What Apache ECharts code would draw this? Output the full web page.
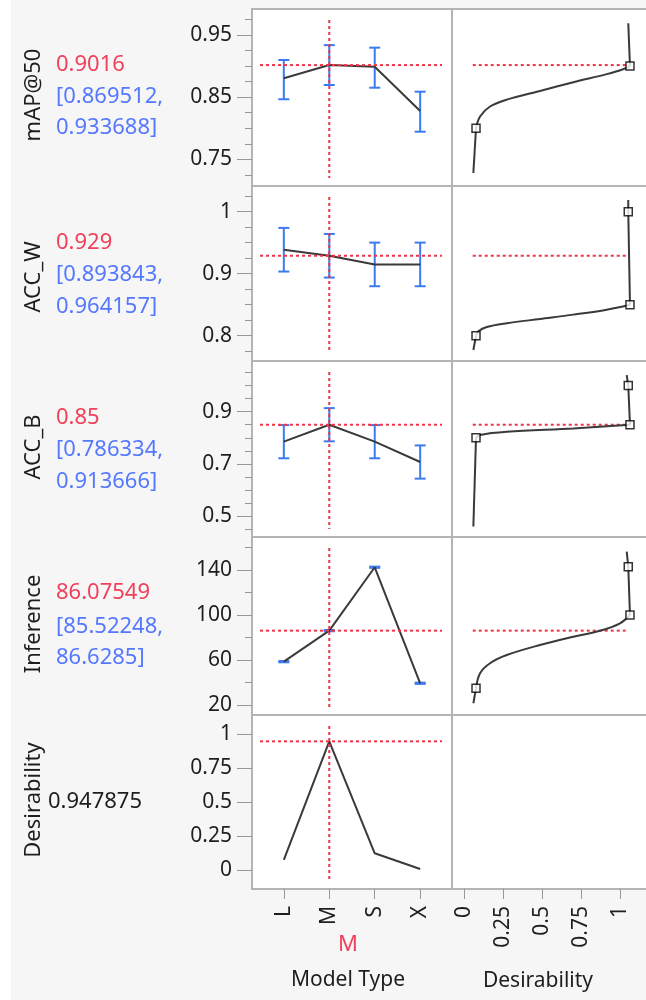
<!DOCTYPE html>
<html><head><meta charset="utf-8">
<script src="https://cdn.jsdelivr.net/npm/echarts@6/dist/echarts.min.js"></script>
<style>html,body{margin:0;padding:0;background:#fff}#c{width:646px;height:1000px}</style>
</head><body><div id="c"></div><script>
// ---------------- data ----------------
const categories = ['L', 'M', 'S', 'X'];
const currentIndex = 1; // current setting: M
const responseNames = ['mAP@50', 'ACC_W', 'ACC_B', 'Inference', 'Desirability'];

const mapMean = [0.8804, 0.9016, 0.8990, 0.8278];
const mapLo   = [0.8466, 0.869512, 0.8652, 0.7944];
const mapHi   = [0.9098, 0.933688, 0.9296, 0.8588];

const accWMean = [0.9387, 0.929, 0.9150, 0.9150];
const accWLo   = [0.9035, 0.893843, 0.8798, 0.8798];
const accWHi   = [0.9739, 0.964157, 0.9502, 0.9502];

const accBMean = [0.7850, 0.85, 0.7850, 0.7070];
const accBLo   = [0.7213, 0.786334, 0.7213, 0.6433];
const accBHi   = [0.8487, 0.913666, 0.8487, 0.7707];

const infMean = [58.5, 86.07549, 142.4, 39.3];
const infLo   = [57.95, 85.52248, 141.85, 38.75];
const infHi   = [59.05, 86.6285, 142.95, 39.85];

const desirability = [0.074, 0.947875, 0.123, 0.007];

// desirability functions (x = desirability, y = response)
const mapDesCurve = [[0.077,0.800],[0.103,0.819],[0.167,0.835],[0.274,0.846],[0.487,0.860],[0.701,0.874],[0.915,0.887],[1.011,0.894],[1.064,0.900]];
const mapDesTails = [[[0.060,0.728],[0.077,0.800]], [[1.064,0.900],[1.053,0.969]]];
const mapDesHandles = [[0.077,0.800],[1.064,0.900]];

const accWDesCurve = [[0.077,0.800],[0.092,0.807],[0.146,0.814],[0.274,0.820],[0.487,0.827],[0.701,0.834],[0.915,0.842],[1.064,0.850]];
const accWDesTails = [[[0.060,0.777],[0.077,0.800]], [[1.064,0.850],[1.053,1.000],[1.053,1.019]]];
const accWDesHandles = [[0.077,0.800],[1.064,0.850],[1.053,1.000]];

const accBDesCurve = [[0.077,0.800],[0.103,0.811],[0.274,0.823],[0.701,0.836],[1.064,0.850]];
const accBDesTails = [[[0.060,0.460],[0.077,0.800]], [[1.064,0.850],[1.053,1.000],[1.043,1.040]]];
const accBDesHandles = [[0.077,0.800],[1.064,0.850],[1.053,1.000]];

const infDesCurve = [[0.077,34.8],[0.103,48.2],[0.167,57.1],[0.274,64.4],[0.487,73.3],[0.701,80.7],[0.872,86.0],[1.000,92.6],[1.064,100.0]];
const infDesTails = [[[0.060,21.5],[0.077,34.8]], [[1.064,100.0],[1.053,142.9],[1.043,156.3]]];
const infDesHandles = [[0.077,34.8],[1.064,100.0],[1.053,142.9]];

// tick labels
const mapTicks = [0.75, 0.85, 0.95];
const mapMinor = [0.725,0.75,0.775,0.8,0.825,0.85,0.875,0.9,0.925,0.95,0.975];
const accWTicks = [0.8, 0.9, 1];
const accWMinor = [0.775,0.8,0.825,0.85,0.875,0.9,0.925,0.95,0.975,1,1.025];
const accBTicks = [0.5, 0.7, 0.9];
const accBMinor = [0.45,0.5,0.55,0.6,0.65,0.7,0.75,0.8,0.85,0.9,0.95,1,1.05];
const infTicks = [20, 60, 100, 140];
const infMinor = [20, 40, 60, 80, 100, 120, 140, 160];
const desTicks = [0, 0.25, 0.5, 0.75, 1];
const catTicks = [0, 1, 2, 3];

// ---------------- layout / style ----------------
const FONT = 'Noto Sans';
const BLUE = '#3b7bf2', RED = '#ee3448', REDTXT = '#f0405a', BLUETXT = '#5578ff', LINE = '#3a3a3a', TXT = '#1e1e1e';
const rowTops = [9, 186, 361, 537, 715];
const rowBots = [186, 361, 537, 715, 889];
const yRanges = [[0.7071, 0.9918], [0.7592, 1.0415], [0.4195, 1.0944], [11.1, 169.3], [-0.14, 1.142]];
const xLeftRange = [-0.7, 3.7];
const xRightRange = [-0.0769, 1.1795];

const rows = [
  {mean: mapMean, lo: mapLo, hi: mapHi, ticks: mapTicks, minor: mapMinor, curve: mapDesCurve, tails: mapDesTails, handles: mapDesHandles},
  {mean: accWMean, lo: accWLo, hi: accWHi, ticks: accWTicks, minor: accWMinor, curve: accWDesCurve, tails: accWDesTails, handles: accWDesHandles},
  {mean: accBMean, lo: accBLo, hi: accBHi, ticks: accBTicks, minor: accBMinor, curve: accBDesCurve, tails: accBDesTails, handles: accBDesHandles},
  {mean: infMean, lo: infLo, hi: infHi, ticks: infTicks, minor: infMinor, curve: infDesCurve, tails: infDesTails, handles: infDesHandles},
  {mean: desirability, ticks: desTicks, minor: null}
];

const fmt = v => String(+(+v).toFixed(4));

const grids = [], xAxes = [], yAxes = [], series = [], graphics = [];

function errRender(params, api) {
  const x = api.value(0), lo = api.value(1), hi = api.value(2);
  const a = api.coord([x, hi]), b = api.coord([x, lo]);
  const hw = 5.5;
  const style = {stroke: BLUE, lineWidth: 2};
  return {type: 'group', children: [
    {type: 'line', shape: {x1: a[0], y1: a[1], x2: b[0], y2: b[1]}, style},
    {type: 'line', shape: {x1: a[0] - hw, y1: a[1], x2: a[0] + hw, y2: a[1]}, style},
    {type: 'line', shape: {x1: b[0] - hw, y1: b[1], x2: b[0] + hw, y2: b[1]}, style}
  ]};
}

const dashStyle = {color: RED, width: 2, type: [3, 3]};

rows.forEach((row, r) => {
  const top = rowTops[r], h = rowBots[r] - rowTops[r];
  const [ymin, ymax] = yRanges[r];
  for (let c = 0; c < 2; c++) {
    const gi = grids.length;
    grids.push({left: c ? 452 : 252, top, width: c ? 196 : 200, height: h, show: true,
      backgroundColor: '#fff', borderColor: '#b4b4b4', borderWidth: 2, containLabel: false, outerBoundsMode: 'none'});
    const isBottom = r === 4;
    const xr = c ? xRightRange : xLeftRange;
    const xVals = c ? desTicks : catTicks;
    xAxes.push({gridIndex: gi, type: 'value', min: xr[0], max: xr[1], show: isBottom, position: 'bottom',
      axisLine: {show: false, onZero: false}, splitLine: {show: false},
      axisTick: {show: isBottom, customValues: xVals, length: 10, lineStyle: {color: '#999', width: 1}},
      axisLabel: {show: isBottom, customValues: xVals, rotate: 90, margin: 17, fontSize: 21, fontFamily: FONT, color: TXT,
        formatter: c ? fmt : (v => categories[Math.round(v)])}});
    const yMajor = yAxes.length;
    yAxes.push({gridIndex: gi, type: 'value', min: ymin, max: ymax, position: 'left', offset: 0, show: c === 0,
      axisLine: {show: false, onZero: false}, splitLine: {show: false},
      axisTick: {show: c === 0, customValues: row.ticks, length: 15, lineStyle: {color: '#999', width: 1}},
      axisLabel: {show: c === 0, customValues: row.ticks, margin: 20, fontSize: 21, fontFamily: FONT, color: TXT, formatter: fmt}});
    if (c === 0 && row.minor) {
      yAxes.push({gridIndex: gi, type: 'value', min: ymin, max: ymax, position: 'left', offset: 0,
        axisLine: {show: false, onZero: false}, splitLine: {show: false},
        axisTick: {show: true, customValues: row.minor, length: 7, lineStyle: {color: '#999', width: 1}},
        axisLabel: {show: false}});
    }
    const cur = row.mean[currentIndex];
    if (c === 0) {
      // profile trace
      if (row.lo) {
        series.push({type: 'custom', xAxisIndex: gi, yAxisIndex: yMajor, renderItem: errRender, silent: true, z: 3,
          encode: {x: 0, y: [1, 2]},
          data: row.mean.map((m, i) => [i, row.lo[i], row.hi[i]])});
      }
      series.push({type: 'line', xAxisIndex: gi, yAxisIndex: yMajor, symbol: 'none', silent: true, z: 4,
        lineStyle: {color: LINE, width: 2}, data: row.mean.map((m, i) => [i, m])});
      // current value reference lines
      series.push({type: 'line', xAxisIndex: gi, yAxisIndex: yMajor, symbol: 'none', silent: true, z: 5,
        lineStyle: dashStyle, data: [[xr[0] + 8 / 200 * (xr[1] - xr[0]), cur], [xr[1] - 10 / 200 * (xr[1] - xr[0]), cur]]});
      series.push({type: 'line', xAxisIndex: gi, yAxisIndex: yMajor, symbol: 'none', silent: true, z: 5,
        lineStyle: dashStyle, data: [[currentIndex, ymax - 11 / h * (ymax - ymin)], [currentIndex, ymin + 8 / h * (ymax - ymin)]]});
    } else if (row.curve) {
      series.push({type: 'line', xAxisIndex: gi, yAxisIndex: yMajor, symbol: 'none', silent: true, z: 4, smooth: 0.35,
        lineStyle: {color: LINE, width: 2}, data: row.curve});
      row.tails.forEach(t => series.push({type: 'line', xAxisIndex: gi, yAxisIndex: yMajor, symbol: 'none', silent: true, z: 4,
        lineStyle: {color: LINE, width: 2}, data: t}));
      series.push({type: 'line', xAxisIndex: gi, yAxisIndex: yMajor, symbol: 'none', silent: true, z: 3,
        lineStyle: dashStyle, data: [[0.056, cur], [1.045, cur]]});
      series.push({type: 'scatter', xAxisIndex: gi, yAxisIndex: yMajor, symbol: 'rect', symbolSize: 8, silent: true, z: 6,
        itemStyle: {color: '#fff', borderColor: '#000', borderWidth: 1.5}, data: row.handles});
    }
  }
});

// ---------------- texts ----------------
const nameCenters = [95, 277, 447, 624, 800];
responseNames.forEach((n, i) => {
  graphics.push({type: 'text', x: 34, y: nameCenters[i], rotation: Math.PI / 2,
    style: {text: n, font: '22px "' + FONT + '"', fill: TXT, align: 'center', verticalAlign: 'middle'}});
});
const valueRows = [[mapMean, mapLo, mapHi], [accWMean, accWLo, accWHi], [accBMean, accBLo, accBHi], [infMean, infLo, infHi]];
const valueY = [[65, 97, 128], [243, 275, 307], [418, 450, 482], [593, 627, 658]];
valueRows.forEach((v, i) => {
  const texts = [String(v[0][currentIndex]), '[' + String(v[1][currentIndex]) + ',', String(v[2][currentIndex]) + ']'];
  const cols = [REDTXT, BLUETXT, BLUETXT];
  texts.forEach((t, k) => graphics.push({type: 'text', x: 56, y: valueY[i][k],
    style: {text: t, font: '22px "' + FONT + '"', fill: cols[k], align: 'left', verticalAlign: 'middle'}}));
});
graphics.push({type: 'text', x: 48, y: 802, style: {text: String(desirability[currentIndex]), font: '22px "' + FONT + '"', fill: TXT, align: 'left', verticalAlign: 'middle'}});
graphics.push({type: 'text', x: 348, y: 945, style: {text: categories[currentIndex], font: '22px "' + FONT + '"', fill: REDTXT, align: 'center', verticalAlign: 'middle'}});
graphics.push({type: 'text', x: 348, y: 980, style: {text: 'Model Type', font: '21px "' + FONT + '"', fill: TXT, align: 'center', verticalAlign: 'middle'}});
graphics.push({type: 'text', x: 538, y: 981, style: {text: 'Desirability', font: '21px "' + FONT + '"', fill: TXT, align: 'center', verticalAlign: 'middle'}});
graphics.push({type: 'rect', x: 0, y: 0, z: -10, shape: {width: 11, height: 1000}, style: {fill: '#fff'}});

const chart = echarts.init(document.getElementById('c'), null, {renderer: 'canvas'});
chart.setOption({
  animation: false,
  backgroundColor: '#f6f6f6',
  grid: grids, xAxis: xAxes, yAxis: yAxes, series, graphic: graphics
});
</script></body></html>
